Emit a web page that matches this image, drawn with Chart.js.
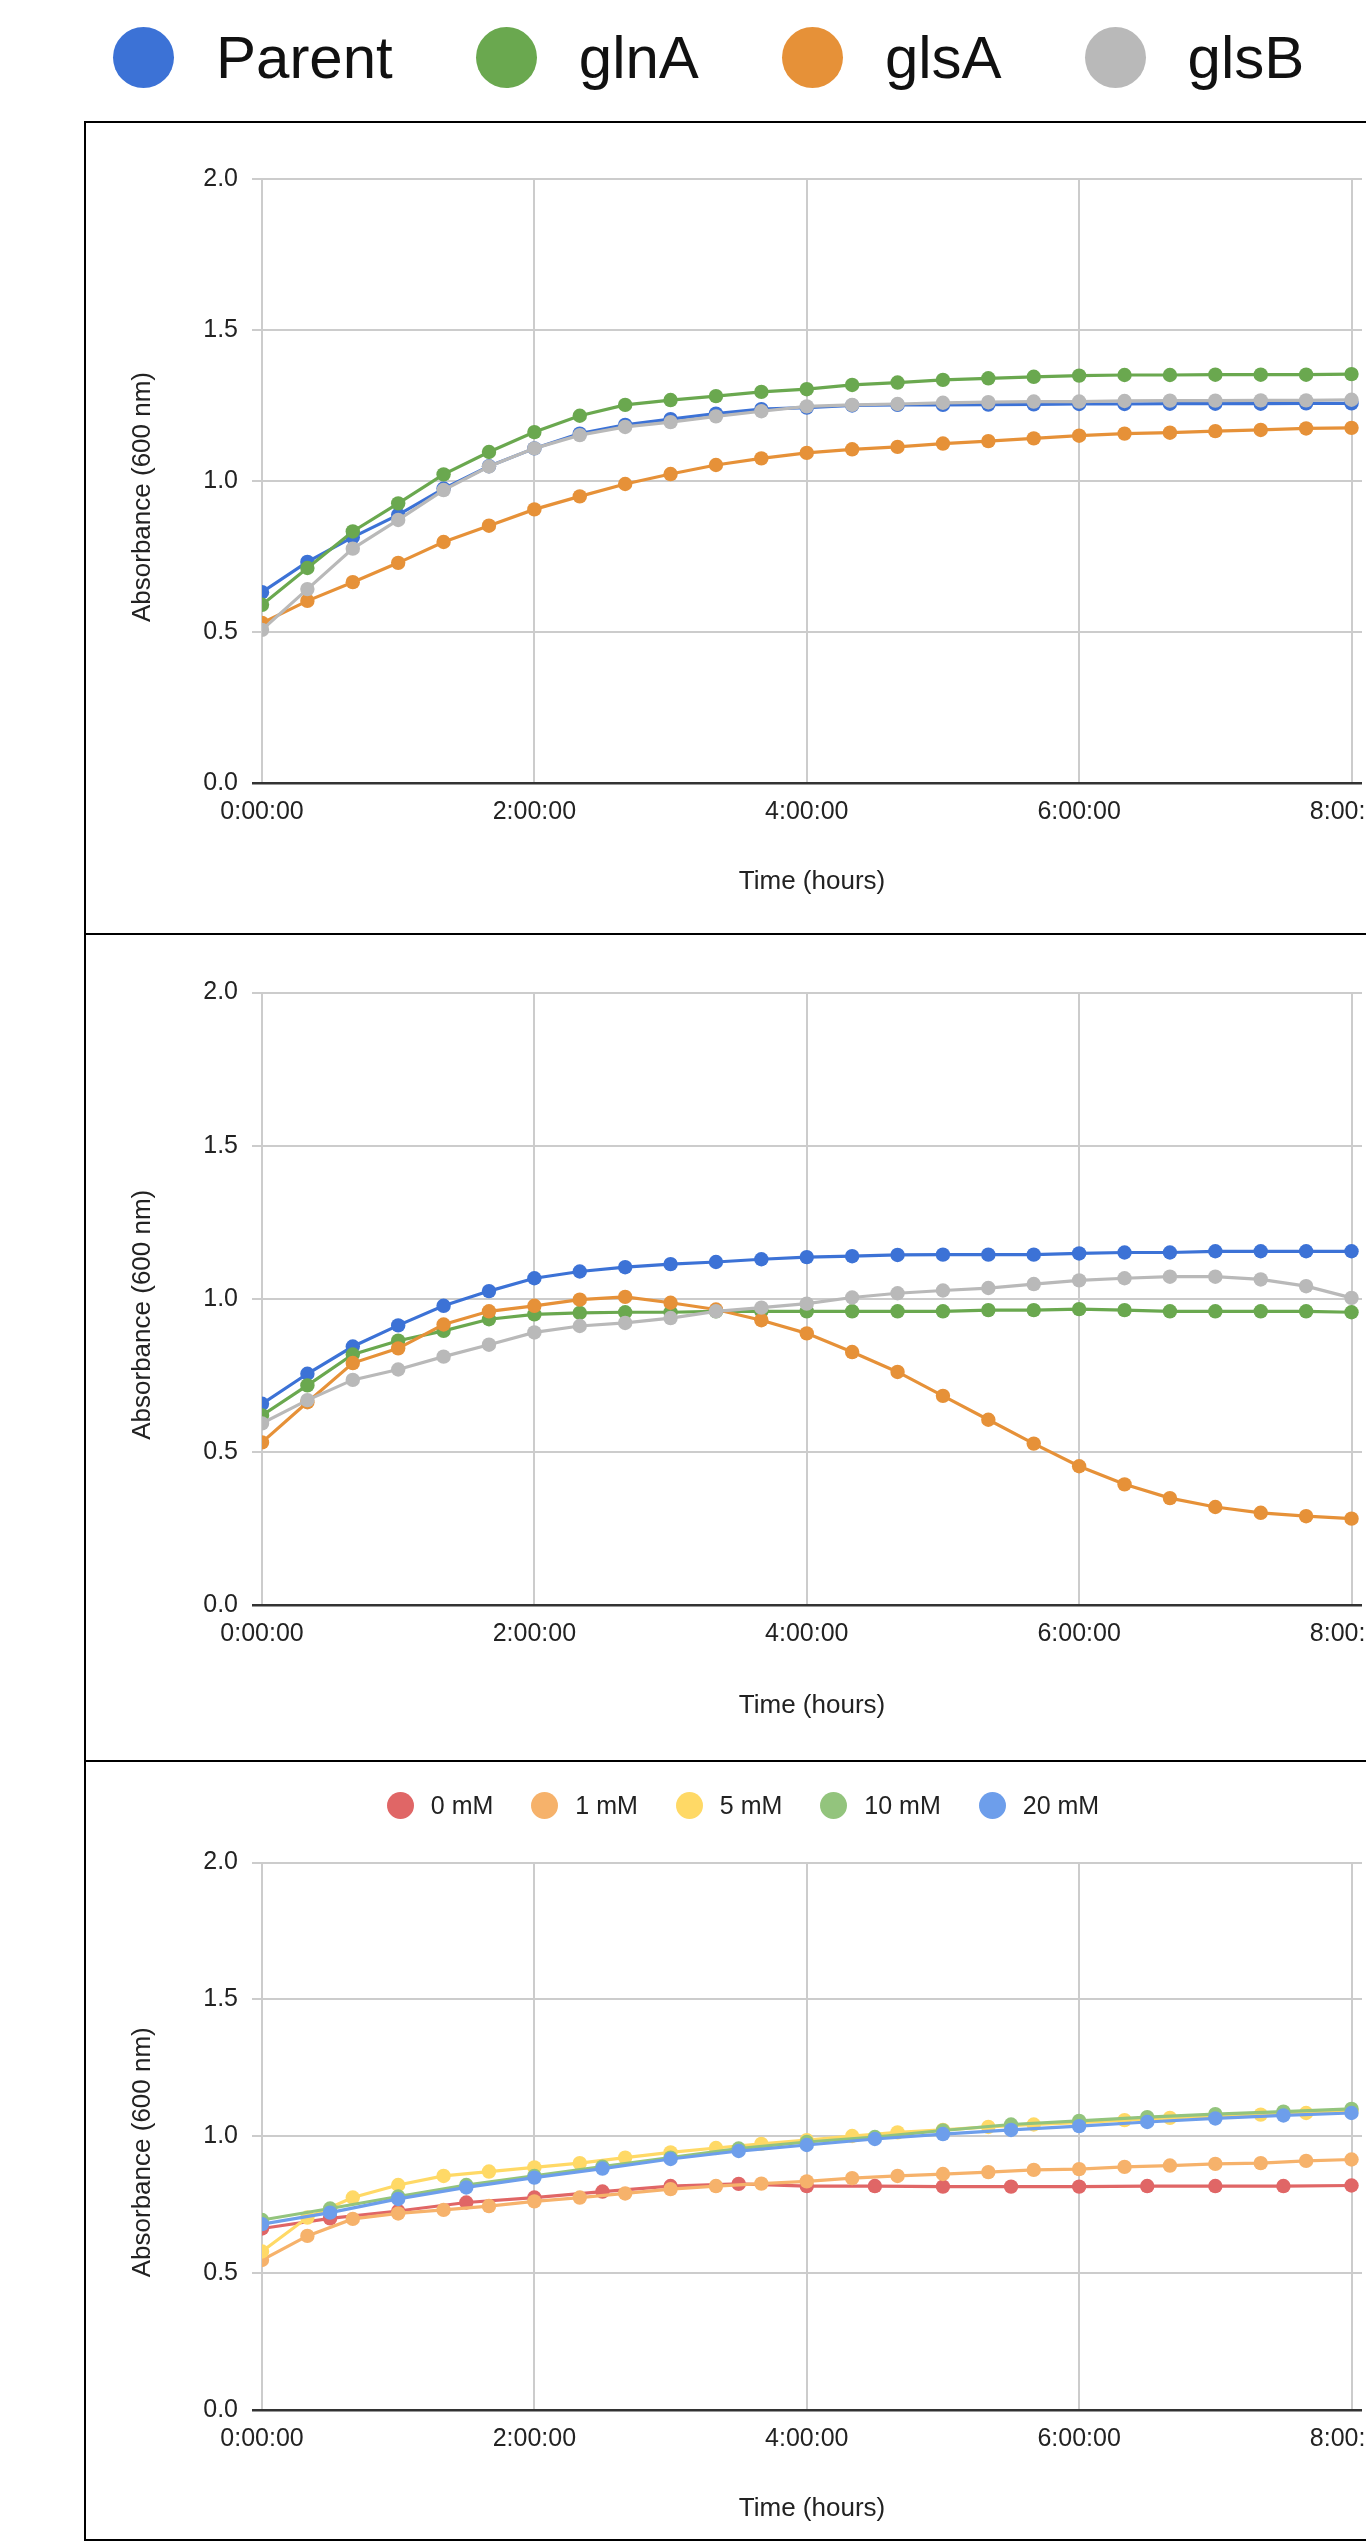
<!DOCTYPE html>
<html>
<head>
<meta charset="utf-8">
<script src="https://cdn.jsdelivr.net/npm/chart.js@4/dist/chart.umd.min.js"></script>
<style>
   html, body { margin: 0; padding: 0; background: #fff; overflow: hidden; }
   body { width: 1366px; height: 2543px; position: relative; font-family: 'Liberation Sans', Arial, sans-serif; color: #111; }
   .panel { position: absolute; left: 84px; width: 1400px; border: 2px solid #000; box-sizing: border-box; }
   canvas { position: absolute; left: 86px; }
   .legend { position: absolute; display: flex; align-items: center; white-space: nowrap; }
   .legend .dot { display: inline-block; border-radius: 50%; flex: none; }
   #topLegend { left: 113px; top: 27px; height: 61px; font-size: 60px; }
   #topLegend .dot { width: 61px; height: 61px; }
   #topLegend .txt { margin-left: 42px; margin-right: 83px; }
   #concLegend { left: 86px; width: 1314px; top: 1792px; height: 27px; justify-content: center; font-size: 25px; color: #222; }
   #concLegend .dot { width: 27px; height: 27px; }
   #concLegend .txt { margin-left: 17px; margin-right: 38px; }
   #topLegend .item:last-child .txt, #concLegend .item:last-child .txt { margin-right: 0; }
</style>
</head>
<body>
<div id="topLegend" class="legend"></div>

<div class="panel" style="top:121px; height:814px;"></div>
<div class="panel" style="top:933px; height:829px;"></div>
<div class="panel" style="top:1760px; height:781px;"></div>

<canvas id="chart1" width="1314" height="810" style="top:123px;"></canvas>
<canvas id="chart2" width="1314" height="825" style="top:935px;"></canvas>
<canvas id="chart3" width="1314" height="777" style="top:1762px;"></canvas>
<div id="concLegend" class="legend"></div>

<script>
// ---- data ----
const strainNames = ['Parent', 'glnA', 'glsA', 'glsB'];
const strainColors = ['#3c72d6', '#6aa84f', '#e69138', '#b9b9b9'];

const concNames = ['0 mM', '1 mM', '5 mM', '10 mM', '20 mM'];
const concColors = ['#e06666', '#f6b26b', '#ffd966', '#93c47d', '#6d9eeb'];

const xTickLabels = ['0:00:00', '2:00:00', '4:00:00', '6:00:00', '8:00:00'];
const yTickLabels = ['0.0', '0.5', '1.0', '1.5', '2.0'];

// readings every 20 minutes
const times20 = [
   '0:00:00', '0:20:00', '0:40:00', '1:00:00', '1:20:00', '1:40:00', '2:00:00', '2:20:00', '2:40:00',
   '3:00:00', '3:20:00', '3:40:00', '4:00:00', '4:20:00', '4:40:00', '5:00:00', '5:20:00', '5:40:00',
   '6:00:00', '6:20:00', '6:40:00', '7:00:00', '7:20:00', '7:40:00', '8:00:00'
];
// readings every 30 minutes
const times30 = [
   '0:00:00', '0:30:00', '1:00:00', '1:30:00', '2:00:00', '2:30:00', '3:00:00', '3:30:00', '4:00:00',
   '4:30:00', '5:00:00', '5:30:00', '6:00:00', '6:30:00', '7:00:00', '7:30:00', '8:00:00'
];

// chart 1
const parentA = [0.632, 0.732, 0.814, 0.888, 0.975, 1.049, 1.108, 1.157, 1.186, 1.205, 1.223, 1.238, 1.243, 1.250, 1.252, 1.252, 1.253, 1.254, 1.255, 1.255, 1.256, 1.256, 1.256, 1.257, 1.257];
const glnA_A  = [0.590, 0.712, 0.833, 0.926, 1.022, 1.096, 1.162, 1.216, 1.252, 1.268, 1.281, 1.295, 1.304, 1.318, 1.326, 1.335, 1.340, 1.345, 1.349, 1.351, 1.351, 1.352, 1.352, 1.352, 1.354];
const glsA_A  = [0.530, 0.603, 0.665, 0.729, 0.798, 0.852, 0.906, 0.949, 0.990, 1.023, 1.053, 1.075, 1.093, 1.105, 1.113, 1.124, 1.132, 1.141, 1.150, 1.157, 1.160, 1.165, 1.169, 1.174, 1.176];
const glsB_A  = [0.507, 0.642, 0.776, 0.871, 0.970, 1.048, 1.108, 1.152, 1.179, 1.195, 1.214, 1.231, 1.247, 1.252, 1.255, 1.259, 1.261, 1.263, 1.263, 1.265, 1.266, 1.266, 1.267, 1.267, 1.269];

// chart 2
const parentB = [0.657, 0.755, 0.844, 0.913, 0.977, 1.025, 1.067, 1.089, 1.103, 1.113, 1.120, 1.129, 1.136, 1.139, 1.143, 1.144, 1.144, 1.144, 1.148, 1.151, 1.151, 1.155, 1.155, 1.155, 1.155];
const glnA_B  = [0.619, 0.717, 0.818, 0.863, 0.895, 0.933, 0.949, 0.954, 0.956, 0.956, 0.959, 0.959, 0.959, 0.959, 0.959, 0.959, 0.963, 0.963, 0.966, 0.963, 0.959, 0.959, 0.959, 0.959, 0.956];
const glsA_B  = [0.531, 0.662, 0.790, 0.838, 0.916, 0.959, 0.977, 0.997, 1.006, 0.987, 0.965, 0.930, 0.887, 0.826, 0.761, 0.683, 0.605, 0.527, 0.453, 0.394, 0.349, 0.320, 0.301, 0.290, 0.282];
const glsB_B  = [0.593, 0.669, 0.735, 0.769, 0.811, 0.850, 0.890, 0.911, 0.921, 0.937, 0.959, 0.971, 0.984, 1.004, 1.018, 1.027, 1.035, 1.048, 1.060, 1.067, 1.072, 1.072, 1.063, 1.041, 1.003];

// chart 3
const conc0  = [0.663, 0.700, 0.727, 0.758, 0.776, 0.798, 0.818, 0.826, 0.818, 0.818, 0.816, 0.816, 0.816, 0.818, 0.818, 0.818, 0.820];
const conc1  = [0.548, 0.636, 0.698, 0.718, 0.731, 0.745, 0.762, 0.776, 0.791, 0.807, 0.818, 0.827, 0.835, 0.847, 0.855, 0.862, 0.869, 0.877, 0.880, 0.888, 0.893, 0.899, 0.902, 0.910, 0.915];
const conc5  = [0.579, 0.703, 0.776, 0.822, 0.855, 0.871, 0.886, 0.902, 0.922, 0.941, 0.957, 0.972, 0.986, 1.001, 1.014, 1.023, 1.034, 1.043, 1.050, 1.059, 1.067, 1.074, 1.079, 1.085, 1.096];
const conc10 = [0.694, 0.736, 0.780, 0.822, 0.855, 0.889, 0.922, 0.955, 0.979, 0.997, 1.021, 1.043, 1.056, 1.070, 1.081, 1.090, 1.100];
const conc20 = [0.679, 0.721, 0.771, 0.813, 0.849, 0.882, 0.917, 0.946, 0.968, 0.990, 1.008, 1.023, 1.037, 1.052, 1.065, 1.076, 1.085];

const X_MAX = 8.077; // plot runs a little past 8:00:00
const FONT = "'Liberation Sans', Arial, sans-serif";
const Y_TITLE = 'Absorbance (600 nm)';
const X_TITLE = 'Time (hours)';

function toHours(t) {
   const p = t.split(':').map(Number);
   return p[0] + p[1] / 60 + p[2] / 3600;
}

function points(times, values) {
   return values.map((v, i) => ({ x: toHours(times[i]), y: v }));
}

function buildLegend(id, names, colors) {
   const box = document.getElementById(id);
   names.forEach((n, i) => {
      const item = document.createElement('span');
      item.className = 'item';
      item.style.display = 'flex';
      item.style.alignItems = 'center';
      item.innerHTML = '<span class="dot" style="background:' + colors[i] + '"></span><span class="txt">' + n + '</span>';
      box.appendChild(item);
   });
}

// y axis title is drawn a bit below the middle of the plot, like the original
const yTitlePlugin = {
   id: 'ytitle',
   afterDraw: (chart, args, opts) => {
      const ctx = chart.ctx;
      const area = chart.chartArea;
      ctx.save();
      ctx.font = '26px ' + FONT;
      ctx.fillStyle = '#222';
      ctx.textAlign = 'center';
      ctx.textBaseline = 'middle';
      ctx.translate(opts.x, (area.top + area.bottom) / 2 + opts.dy);
      ctx.rotate(-Math.PI / 2);
      ctx.fillText(Y_TITLE, 0, 0);
      ctx.restore();
   }
};
Chart.register(yTitlePlugin);

function makeDatasets(seriesList, timesList, names, colors) {
   return seriesList.map((vals, i) => ({
      label: names[i],
      data: points(timesList[i], vals),
      borderColor: colors[i],
      backgroundColor: colors[i],
      pointBackgroundColor: colors[i],
      pointBorderWidth: 0,
      pointRadius: 7.2,
      borderWidth: 3.2,
      tension: 0,
      order: seriesList.length - i // later series on top
   }));
}

function createChart(elem, datasets, lay) {
   return new Chart(document.getElementById(elem), {
      type: 'line',
      data: { datasets: datasets },
      options: {
         responsive: false,
         animation: false,
         events: [],
         layout: { padding: { top: lay.top, right: 38, bottom: 0, left: 0 } },
         plugins: {
            legend: { display: false },
            tooltip: { enabled: false },
            ytitle: { x: 56.5, dy: 16 }
         },
         scales: {
            x: {
               type: 'linear',
               min: 0,
               max: X_MAX,
               afterFit: (scale) => {
                  scale.height = lay.xHeight;
                  scale.paddingLeft = 0;
                  scale.paddingRight = 0;
               },
               grid: { color: '#cccccc', lineWidth: 2, drawTicks: false },
               border: { display: false },
               ticks: {
                  stepSize: 2,
                  includeBounds: false,
                  maxRotation: 0,
                  padding: 14,
                  color: '#222',
                  font: { family: FONT, size: 25 },
                  callback: (v, i) => xTickLabels[i]
               },
               title: {
                  display: true,
                  text: X_TITLE,
                  color: '#222',
                  font: { family: FONT, size: 26 },
                  padding: { top: 0, bottom: lay.titlePad }
               }
            },
            y: {
               min: 0,
               max: 2,
               afterFit: (scale) => {
                  scale.width = 176;
                  scale.paddingTop = 0;
                  scale.paddingBottom = 0;
               },
               grid: {
                  color: (c) => c.tick && c.tick.value === 0 ? '#333333' : '#cccccc',
                  lineWidth: (c) => c.tick && c.tick.value === 0 ? 2.5 : 2,
                  tickLength: 10
               },
               border: { display: false },
               ticks: {
                  stepSize: 0.5,
                  padding: 14,
                  color: '#222',
                  font: { family: FONT, size: 25 },
                  callback: (v, i) => yTickLabels[i]
               }
            }
         }
      }
   });
}

buildLegend('topLegend', strainNames, strainColors);
buildLegend('concLegend', concNames, concColors);

createChart('chart1',
   makeDatasets([parentA, glnA_A, glsA_A, glsB_A], [times20, times20, times20, times20], strainNames, strainColors),
   { top: 56, xHeight: 150, titlePad: 36 });

createChart('chart2',
   makeDatasets([parentB, glnA_B, glsA_B, glsB_B], [times20, times20, times20, times20], strainNames, strainColors),
   { top: 57.5, xHeight: 155, titlePad: 39 });

createChart('chart3',
   makeDatasets([conc0, conc1, conc5, conc10, conc20], [times30, times20, times20, times30, times30], concNames, concColors),
   { top: 100.5, xHeight: 129, titlePad: 15 });
</script>
</body>
</html>
